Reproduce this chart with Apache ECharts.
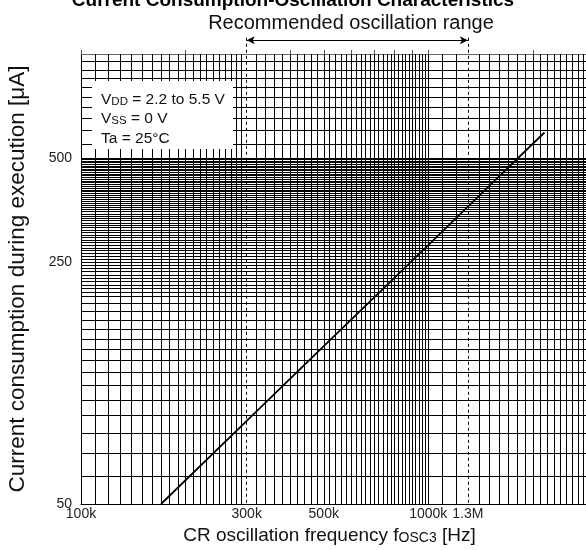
<!DOCTYPE html>
<html><head><meta charset="utf-8">
<script src="https://cdn.jsdelivr.net/npm/echarts@6/dist/echarts.min.js"></script>
<style>html,body{margin:0;padding:0;background:#fff}#c{width:586px;height:550px}</style>
</head><body><div id="c"></div>
<script>
// ---- data ----
const freqHz = [170000, 300000, 500000, 1000000, 1300000, 2160000];
const currentUA = [50, 87, 143, 280, 362, 593];
const xTickValues = [100000, 300000, 500000, 1000000, 1300000];
const xTickLabels = ['100k', '300k', '500k', '1000k', '1.3M'];
const yTickValues = [50, 250, 500];
const yTickLabels = ['50', '250', '500'];
const topTickValues = [100000, 200000, 400000, 500000, 600000, 700000, 800000, 900000, 1000000, 2000000, 3000000];
const rangeBounds = [300000, 1300000];
// log-paper rulings: [from, to, step]
const xGridSegments = [[110000, 290000, 10000], [320000, 980000, 20000], [1000000, 1200000, 100000], [1400000, 2900000, 100000]];
const yGridSegments = [[60, 190, 10], [200, 495, 5], [500, 950, 50]];

function expand(segs) {
  const out = [];
  segs.forEach(([a, b, s]) => { for (let v = a; v <= b + 1e-6; v += s) out.push(v); });
  return out;
}
const xGrid = expand(xGridSegments);
const yGrid = expand(yGridSegments);

const FONT = "'Liberation Sans', Arial, Helvetica, sans-serif";
const G = { left: 81, right: -8, top: 54, bottom: 46 };
const plotH = 550 - G.top - G.bottom;
const pxPerDec = plotH / Math.log10(1000 / 50);
const annoMax = 1200;
const annoTop = (550 - G.bottom) - pxPerDec * Math.log10(annoMax / 50);

function fmt(values, labels) {
  return function (v) {
    for (let i = 0; i < values.length; i++) {
      if (Math.abs(v - values[i]) / values[i] < 1e-4) return labels[i];
    }
    return '';
  };
}

const chart = echarts.init(document.getElementById('c'), null, { renderer: 'canvas' });
chart.setOption({
  animation: false,
  backgroundColor: '#fff',
  textStyle: { fontFamily: FONT },
  title: {
    text: 'Current Consumption-Oscillation Characteristics',
    left: 'center', top: -14,
    textStyle: { fontFamily: FONT, fontSize: 19, fontWeight: 'bold', color: '#000' }
  },
  grid: [
    Object.assign({ outerBoundsMode: 'none', containLabel: false }, G),
    { left: G.left, right: G.right, bottom: G.bottom, top: annoTop, outerBoundsMode: 'none', containLabel: false }
  ],
  xAxis: [
    {
      gridIndex: 0, type: 'log', logBase: 10, min: 100000, max: 3000000,
      axisLine: { show: true, onZero: false, lineStyle: { color: '#000', width: 1 } },
      axisTick: { show: false },
      splitLine: { show: false },
      axisLabel: {
        customValues: xTickValues, formatter: fmt(xTickValues, xTickLabels),
        fontFamily: FONT, fontSize: 14, color: '#222', margin: 3, showMinLabel: true, showMaxLabel: true
      },
      name: 'CR oscillation frequency f{s|OSC3} [Hz]',
      nameLocation: 'middle', nameGap: 17,
      nameTextStyle: {
        fontFamily: FONT, fontSize: 19, color: '#111', padding: [0, 16, 0, 0],
        rich: { s: { fontFamily: FONT, fontSize: 14, color: '#111', verticalAlign: 'bottom', padding: [0, 0, 0, 0] } }
      }
    },
    {
      gridIndex: 0, type: 'log', logBase: 10, min: 100000, max: 3000000, position: 'top',
      axisLine: { show: true, onZero: false, lineStyle: { color: '#666', width: 1 } },
      axisTick: { show: true, customValues: topTickValues, length: 4, inside: false, lineStyle: { color: '#555', width: 1 } },
      axisLabel: { show: false },
      splitLine: { show: false }
    },
    {
      gridIndex: 1, type: 'log', logBase: 10, min: 100000, max: 3000000, show: false
    }
  ],
  yAxis: [
    {
      gridIndex: 0, type: 'log', logBase: 10, min: 50, max: 1000,
      axisLine: { show: true, onZero: false, lineStyle: { color: '#000', width: 1 } },
      axisTick: { show: false },
      splitLine: { show: false },
      axisLabel: {
        customValues: yTickValues, formatter: fmt(yTickValues, yTickLabels),
        fontFamily: FONT, fontSize: 14, color: '#222', margin: 9, showMinLabel: true
      },
      name: 'Current consumption during execution [μA]',
      nameLocation: 'middle', nameGap: 52, nameRotate: 90,
      nameTextStyle: { fontFamily: FONT, fontSize: 22.5, color: '#111' }
    },
    {
      gridIndex: 1, type: 'log', logBase: 10, min: 50, max: annoMax, show: false
    }
  ],
  graphic: [
    {
      type: 'text', z: 100,
      style: { x: 351, y: 23, text: 'Recommended oscillation range', textAlign: 'center', textVerticalAlign: 'middle',
        font: '20px ' + FONT, fill: '#111' }
    },
    {
      type: 'rect', z: 100,
      shape: { x: 92, y: 81, width: 141, height: 68 },
      style: { fill: '#fff', stroke: null }
    },
    {
      type: 'text', z: 101,
      style: {
        x: 101, y: 88, textVerticalAlign: 'top',
        text: '{n|V}{s|DD}{n| = 2.2 to 5.5 V}\n{n|V}{s|SS}{n| = 0 V}\n{n|Ta = 25°C}',
        rich: {
          n: { fontFamily: FONT, fontSize: 15.5, fill: '#111', color: '#111', lineHeight: 19.5, verticalAlign: 'bottom' },
          s: { fontFamily: FONT, fontSize: 11.5, fill: '#111', color: '#111', lineHeight: 19.5, verticalAlign: 'bottom' }
        }
      }
    }
  ],
  series: [
    {
      name: 'rulings', type: 'line', xAxisIndex: 0, yAxisIndex: 0, data: [], z: 1, silent: true,
      markLine: {
        silent: true, animation: false, symbol: ['none', 'none'], label: { show: false },
        lineStyle: { color: '#000', width: 1, type: 'solid', opacity: 1 },
        emphasis: { disabled: true },
        data: xGrid.map(v => ({ xAxis: v })).concat(yGrid.map(v => ({ yAxis: v })))
      }
    },
    {
      name: 'current', type: 'line', xAxisIndex: 0, yAxisIndex: 0, z: 5,
      data: freqHz.map((f, i) => [f, currentUA[i]]),
      symbol: 'none', lineStyle: { color: '#000', width: 1.8 }, silent: true
    },
    {
      name: 'range', type: 'line', xAxisIndex: 2, yAxisIndex: 1, data: [], z: 4, silent: true,
      markLine: {
        silent: true, animation: false, symbol: ['none', 'none'], label: { show: false },
        lineStyle: { color: '#000', width: 1, type: [3, 3], opacity: 1 },
        emphasis: { disabled: true },
        data: rangeBounds.map(b => [{ coord: [b, 1114] }, { coord: [b, 50] }])
      }
    },
    {
      name: 'rangeArrow', type: 'line', xAxisIndex: 2, yAxisIndex: 1, data: [], z: 4, silent: true,
      markLine: {
        silent: true, animation: false, symbol: ['arrow', 'arrow'], symbolSize: [6, 8], label: { show: false },
        lineStyle: { color: '#000', width: 1, type: 'solid', opacity: 1 },
        emphasis: { disabled: true },
        data: [[{ coord: [rangeBounds[0], 1095] }, { coord: [rangeBounds[1], 1095] }]]
      }
    }
  ]
});
</script></body></html>
